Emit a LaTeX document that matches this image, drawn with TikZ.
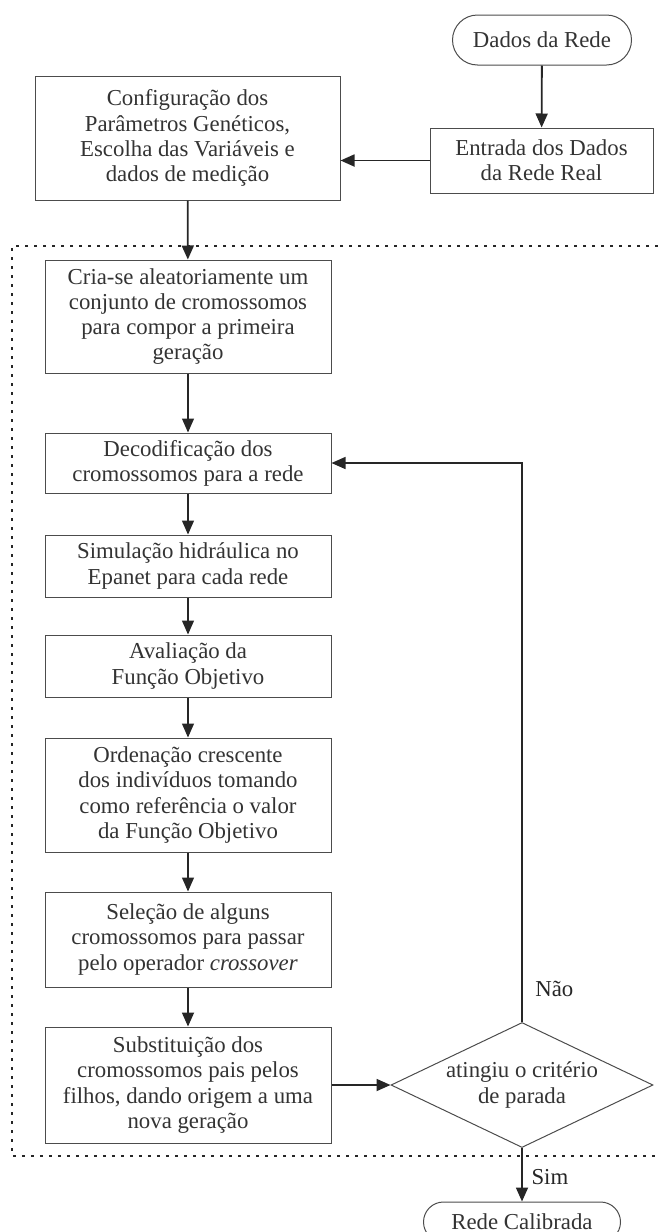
\documentclass[tikz,border=0pt]{standalone}
\usepackage{fontspec}
\setmainfont{Liberation Serif}
\usepackage{tikz}
\usetikzlibrary{shapes.geometric,arrows.meta}

\begin{document}
\begin{tikzpicture}[x=0.5pt,y=-0.5pt,
    font=\fontsize{11.4}{12.6}\selectfont, text=black!80,
    caixa/.style={draw=black!70,line width=0.5pt,align=center,inner sep=0pt,minimum width=143pt},
    terminal/.style={draw=black!70,line width=0.5pt,rounded corners=10pt,inner sep=0pt,minimum width=89.5pt,minimum height=25pt},
    decisao/.style={draw=black!70,line width=0.5pt,diamond,inner sep=0pt,minimum width=131pt,minimum height=62.5pt},
    seta/.style={-{Triangle[length=7pt,width=6pt]},color=black!85,line width=0.9pt},
    fina/.style={seta,line width=0.6pt}]
  \useasboundingbox (0,0) rectangle (658,1232);
  % bloco do laco do AG
  \draw[black!85,line width=1.3pt,dash pattern=on 1.4pt off 3.1pt]
    (658,246) -- (12,246) -- (12,1156) -- (658,1156);
  \node[terminal,rounded corners=12.5pt] (dados) at (542,40) {Dados da Rede};
  \node[caixa,minimum width=111.5pt,minimum height=32.5pt] (entrada) at (541.5,160.5)
    {Entrada dos Dados\\da Rede Real};
  \node[caixa,minimum width=152.5pt,minimum height=62pt] (config) at (187.5,138)
    {Configuração dos\\Parâmetros Genéticos,\\Escolha das Variáveis e\\dados de medição};
  \node[caixa,minimum height=56.5pt] (cria) at (188,316.5)
    {Cria-se aleatoriamente um\\conjunto de cromossomos\\para compor a primeira\\geração};
  \node[caixa,minimum height=30pt] (decod) at (188,463)
    {Decodificação dos\\cromossomos para a rede};
  \node[caixa,minimum height=31pt] (simul) at (188,566)
    {Simulação hidráulica no\\Epanet para cada rede};
  \node[caixa,minimum height=31pt] (aval) at (188,666)
    {Avaliação da\\Função Objetivo};
  \node[caixa,minimum height=57pt] (orden) at (188,795)
    {Ordenação crescente\\dos indivíduos tomando\\como referência o valor\\da Função Objetivo};
  \node[caixa,minimum height=47.5pt] (selec) at (188,939.5)
    {Seleção de alguns\\cromossomos para passar\\pelo operador \textit{crossover}};
  \node[caixa,minimum height=58pt] (subst) at (188,1085)
    {Substituição dos\\cromossomos pais pelos\\filhos, dando origem a uma\\nova geração};
  \node[decisao] (crit) at (522,1085) {};
  \node[align=center] (critxt) at (crit) {atingiu o critério\\de parada};
  \node[terminal,minimum width=98.5pt,minimum height=20pt] (calib) at (522,1222) {Rede Calibrada};

  \path[seta]
  (dados) edge (entrada)
  (entrada.west) edge (config.east |- entrada.west)
  (config) edge (cria)
  (selec) edge (subst)
  (subst) edge (crit)
  (crit.south) edge node[right=1pt,pos=0.55] {Sim} (calib);
  \path[fina]
  (cria) edge (decod)
  (decod) edge (simul)
  (simul) edge (aval)
  (aval) edge (orden)
  (orden) edge (selec);
  \draw[seta,line width=0.7pt] (crit.north) |- node[pos=0.03,right=3pt] {Não} (decod.east);
\end{tikzpicture}
\end{document}
